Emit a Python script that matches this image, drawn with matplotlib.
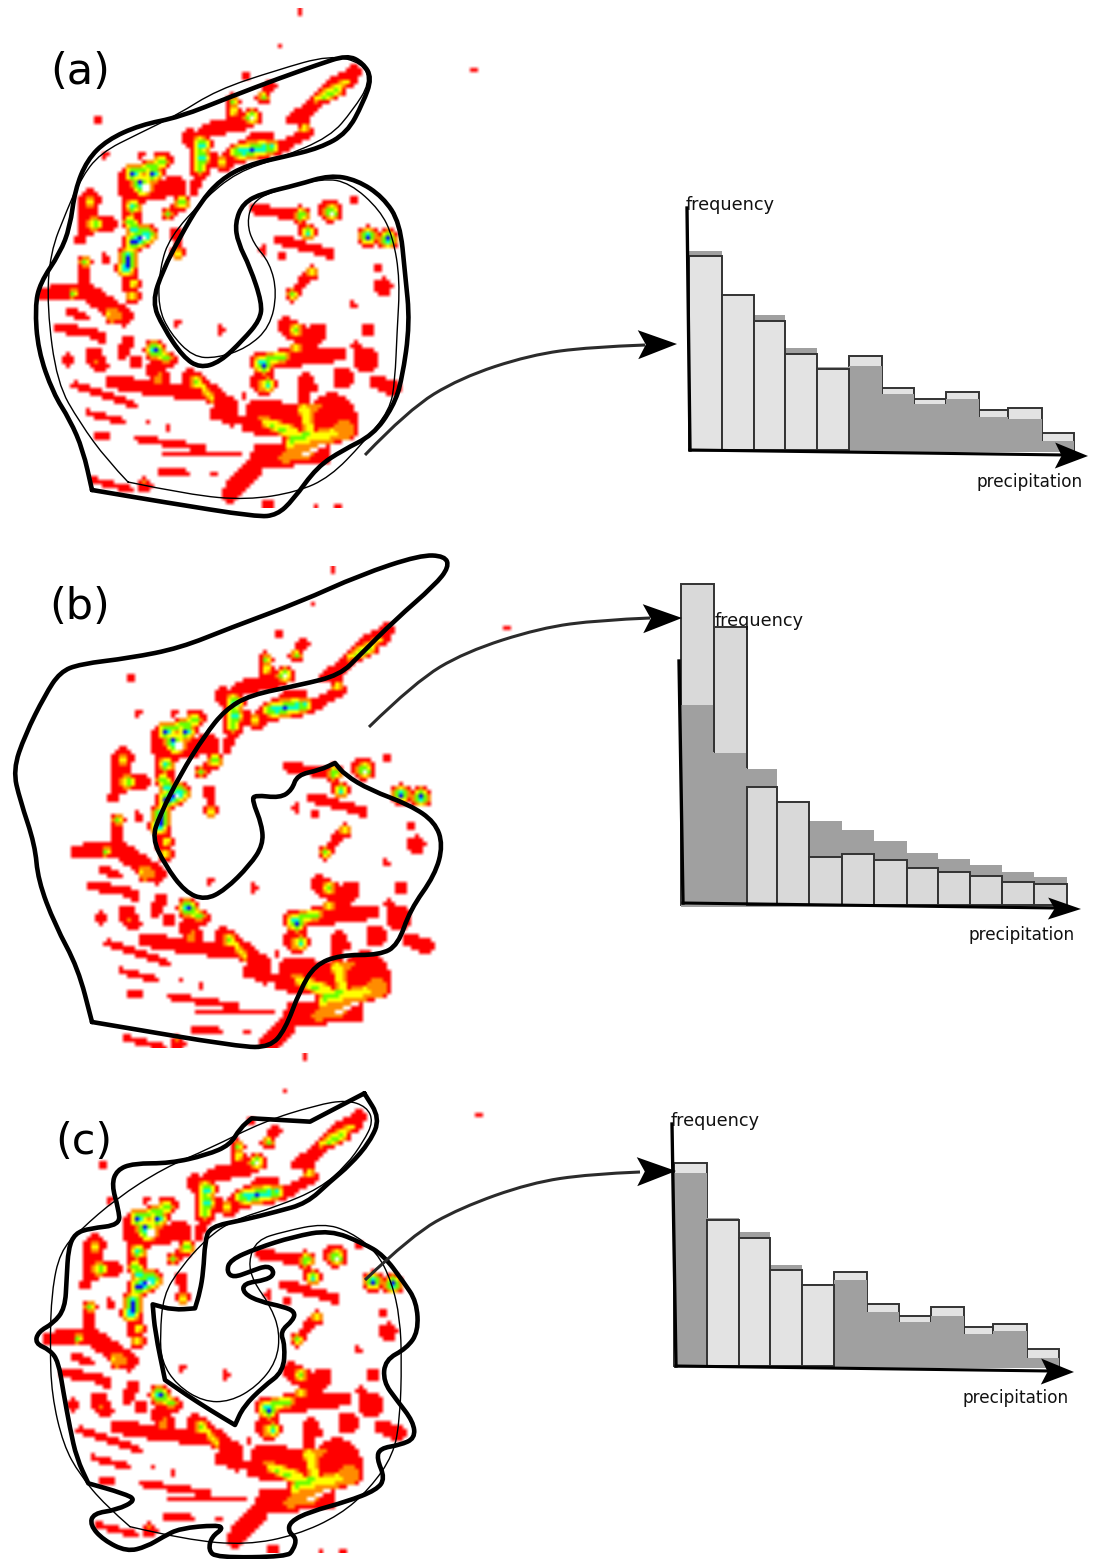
"""
Precipitation field schematic: three contour panels, each with a histogram.
Everything is laid out in reference pixel units on one full-figure axes.
"""

import numpy as np
import matplotlib
matplotlib.use("Agg")
import matplotlib.pyplot as plt
from matplotlib.path import Path
from matplotlib.patches import PathPatch

WIDTH, HEIGHT = 1095, 1559

RED = [
    ([(790, 235), (860, 190), (900, 140), (975, 95)], 16), ([(955, 115)], 24),
    ([(820, 215), (830, 270)], 14), ([(830, 280), (740, 330), (620, 335)], 14),
    ([(650, 105)], 9), ([(610, 180), (610, 230)], 15), ([(725, 135), (690, 175)], 12),
    ([(660, 230)], 22), ([(640, 250), (530, 270)], 18), ([(480, 295), (510, 300), (510, 400)], 24),
    ([(510, 400), (490, 455)], 12), ([(530, 360), (590, 370), (620, 330)], 20),
    ([(720, 290), (670, 290)], 14), ([(340, 440)], 44), ([(290, 410), (290, 460)], 20),
    ([(400, 360), (370, 400)], 25), ([(440, 435), (390, 450)], 24), ([(455, 490), (410, 525)], 12),
    ([(180, 480), (170, 560)], 28), ([(170, 560), (240, 550)], 20), ([(150, 600)], 12),
    ([(165, 660), (165, 730)], 12), ([(225, 655)], 11), ([(300, 500), (310, 560), (340, 590)], 24),
    ([(340, 590), (300, 640), (290, 690), (310, 770)], 20), ([(40, 760), (160, 750)], 17),
    ([(160, 750), (280, 830)], 25), ([(120, 815), (170, 835)], 8), ([(90, 865), (190, 880)], 11),
    ([(215, 895)], 15), ([(295, 905), (280, 940)], 15), ([(190, 945), (210, 975)], 22),
    ([(115, 960)], 16), ([(315, 965)], 17), ([(365, 930), (420, 960)], 16),
    ([(380, 985), (390, 1030)], 26), ([(250, 1025), (400, 1050), (560, 1060)], 18),
    ([(135, 1035), (310, 1095)], 8), ([(480, 1010), (600, 1100)], 22), ([(175, 1120), (280, 1145)], 7),
    ([(200, 1190), (235, 1190)], 6), ([(320, 1195), (520, 1225)], 7), ([(405, 1243), (630, 1243)], 5),
    ([(400, 1295), (465, 1300)], 9), ([(550, 1302)], 9), ([(190, 1320), (300, 1350)], 7),
    ([(345, 1335)], 18), ([(905, 1135)], 72), ([(681, 1110), (870, 1140)], 32),
    ([(560, 1120), (700, 1170)], 17), ([(660, 1150), (900, 1190)], 24), ([(870, 1240), (700, 1245)], 32),
    ([(700, 1250), (600, 1360)], 24), ([(830, 1020), (820, 1090)], 18), ([(770, 860), (840, 900)], 26),
    ([(860, 880)], 30), ([(690, 960), (850, 950)], 22), ([(700, 1030)], 35), ([(850, 950), (930, 945)], 16),
    ([(1015, 870)], 17), ([(980, 920)], 13), ([(1010, 960)], 34), ([(940, 1015)], 30),
    ([(1040, 1025), (1090, 1045)], 19), ([(970, 795)], 7), ([(1060, 740)], 24), ([(1045, 680)], 9),
    ([(790, 765), (840, 695)], 11), ([(670, 505), (790, 525), (840, 580)], 12), ([(900, 510)], 32),
    ([(750, 600), (900, 640)], 12), ([(700, 630)], 9), ([(755, 650)], 8), ([(1015, 590)], 18),
    ([(1075, 595)], 18), ([(975, 480)], 10), ([(440, 575), (445, 640)], 12), ([(440, 848)], 8),
    ([(575, 870)], 10), ([(850, 1045)], 13), ([(715, 1395)], 14), ([(920, 1400)], 7), ([(860, 1405)], 5),
    ([(203, 240)], 6), ([(225, 345)], 9), ([(335, 345)], 7), ([(752, 18)], 5), ([(600, 1105)], 8),
    ([(415, 1165)], 4), ([(350, 1150)], 4), ([(640, 1070)], 6), ([(810, -84)], 4), ([(1332, 93)], 4),
]
ORANGE = [
    ([(385, 1015)], 14), ([(250, 825)], 22), ([(945, 1170)], 30), ([(780, 1240), (900, 1190)], 18),
    ([(700, 1040)], 20), ([(430, 1297)], 6), ([(200, 965)], 10), ([(840, 1240), (760, 1255)], 14),
    ([(340, 1325)], 8), ([(860, 1100), (830, 1130)], 14), ([(540, 1075)], 12), ([(700, 1135)], 12),
]
YELLOW = [
    ([(860, 175), (950, 125)], 6), ([(130, 760)], 6), ([(235, 820)], 5), ([(780, 1209), (909, 1179)], 12),
    ([(711, 1149), (789, 1175)], 12), ([(510, 1030), (545, 1075)], 6), ([(700, 1040)], 10),
    ([(820, 1105), (840, 1170)], 12),
]
GREEN = [
    ([(880, 170), (925, 150)], 4), ([(825, 265)], 4), ([(610, 215)], 4), ([(510, 310), (510, 385)], 8),
    ([(575, 368)], 5), ([(620, 335), (725, 320)], 4), ([(665, 232)], 7), ([(700, 170)], 2),
    ([(310, 400), (400, 365)], 5), ([(340, 440)], 18), ([(455, 490)], 4), ([(415, 522)], 2),
    ([(195, 550)], 8), ([(180, 485)], 4), ([(300, 545), (335, 590)], 8), ([(300, 640), (290, 685)], 6),
    ([(310, 730)], 3), ([(305, 768)], 5), ([(130, 760)], 3), ([(165, 665)], 2), ([(380, 935), (410, 955)], 5),
    ([(500, 1025)], 8), ([(795, 870)], 8), ([(800, 925)], 5), ([(690, 965), (760, 950)], 7),
    ([(715, 1035)], 10), ([(815, 525)], 8), ([(835, 580)], 8), ([(905, 515)], 12), ([(788, 765)], 5),
    ([(845, 697)], 3), ([(1015, 590)], 5), ([(1075, 597)], 4), ([(730, 1160), (770, 1175)], 3),
    ([(790, 1200), (830, 1185)], 8), ([(445, 640)], 2), ([(610, 185)], 2),
]
CYAN = [
    ([(620, 335), (725, 322)], 2), ([(665, 232)], 6), ([(310, 395)], 5), ([(395, 365)], 4),
    ([(340, 440)], 14), ([(310, 500)], 6), ([(195, 552)], 5), ([(310, 570), (360, 585)], 4),
    ([(295, 650), (290, 685)], 3), ([(510, 315)], 3), ([(815, 525)], 5), ([(835, 578)], 4),
    ([(905, 518)], 8), ([(690, 970)], 5), ([(715, 1035)], 4), ([(455, 488)], 2), ([(375, 930)], 3),
]
BLUE = [
    ([(640, 335)], 1), ([(670, 328)], 1), ([(700, 325)], 1), ([(295, 650), (290, 685)], 1), ([(515, 315)], 1),
    ([(515, 355)], 1), ([(330, 430)], 1), ([(370, 400)], 1), ([(310, 400)], 1), ([(1015, 590)], 1),
    ([(1075, 597)], 1), ([(375, 930)], 1), ([(700, 975)], 1), ([(310, 605), (350, 585)], 1),
]
WHITE_CORE = [
    ([(345, 445)], 12), ([(905, 520)], 6), ([(815, 530)], 4), ([(665, 232)], 3), ([(340, 595)], 4),
    ([(880, 1215), (820, 1245)], 5), ([(610, 1155), (660, 1168)], 3),
]

FIELD_LEVELS = [RED, ORANGE, YELLOW, GREEN, CYAN, BLUE]
FIELD_COLORS = ["#ff0000", "#ff8c00", "#ffff00", "#66ff00", "#00ffcc", "#0000ff"]

# ---- contours, reference pixels
A_THICK = [(92, 490), (92, 490), (83, 450), (70, 420), (53, 393), (38, 350), (35, 307), (40, 283), (60, 253), (70, 227),
           (75, 190), (87, 160), (107, 140), (140, 125), (180, 117), (230, 97), (280, 78), (317, 65), (347, 55),
           (363, 63), (372, 78), (363, 103), (347, 133), (320, 148), (283, 157), (247, 165), (220, 180), (200, 203),
           (180, 237), (163, 270), (152, 302), (163, 327), (183, 357), (200, 368), (220, 362), (243, 340), (260, 320),
           (262, 303), (250, 267), (238, 243), (235, 223), (243, 203), (263, 193), (297, 185), (330, 175), (357, 180),
           (383, 197), (400, 223), (405, 273), (410, 323), (402, 380), (393, 407), (373, 435), (343, 450), (317, 467),
           (293, 500), (277, 515), (257, 517), (163, 502), (92, 490), (92, 490)]
A_THIN = [(128, 482), (107, 460), (80, 423), (57, 383), (47, 307), (50, 253), (67, 210), (80, 180), (100, 153),
          (140, 133), (177, 115), (217, 90), (277, 70), (330, 55), (363, 63), (370, 83), (353, 110), (330, 137),
          (280, 158), (237, 172), (203, 200), (170, 237), (160, 267), (158, 307), (170, 333), (193, 357), (217, 358),
          (247, 348), (270, 327), (277, 293), (270, 263), (253, 243), (247, 223), (252, 203), (270, 192), (323, 178),
          (350, 183), (380, 210), (393, 237), (400, 280), (397, 333), (395, 380), (390, 410), (363, 443), (330, 477),
          (297, 492), (247, 500), (190, 495), (128, 482)]
B_THICK = [(92, 1022), (92, 1022), (78, 968), (55, 925), (38, 880), (35, 845), (20, 800), (13, 770), (25, 735), (45, 695),
           (60, 672), (80, 664), (130, 658), (180, 648), (230, 628), (300, 602), (360, 575), (420, 555), (445, 556),
           (449, 567), (435, 585), (395, 620), (360, 655), (340, 675), (300, 685), (250, 695), (225, 710), (205, 735),
           (180, 775), (160, 815), (152, 838), (165, 865), (185, 892), (205, 900), (225, 890), (250, 865), (263, 845),
           (262, 825), (252, 800), (255, 795), (280, 798), (292, 790), (297, 775), (320, 770), (335, 763), (335, 763),
           (345, 775), (370, 790), (410, 805), (435, 822), (443, 845), (435, 875), (410, 910), (398, 945), (380, 955),
           (340, 955), (315, 965), (300, 990), (285, 1030), (270, 1047), (240, 1047), (92, 1022), (92, 1022)]
C_THICK_CROP = [(1003, 25), (1003, 25), (1050, 100), (1020, 170), (960, 240), (900, 290), (830, 355), (740, 380), (640, 405),
                (540, 425), (525, 470), (520, 560), (510, 620), (495, 670), (495, 670), (430, 675), (368, 658), (368, 658),
                (375, 740), (405, 885), (405, 885), (470, 930), (540, 975), (615, 1020), (615, 1020), (640, 965), (700, 905),
                (760, 860), (765, 780), (750, 740), (790, 705), (795, 680), (760, 665), (690, 650), (640, 625), (640, 595),
                (710, 585), (735, 565), (715, 540), (660, 560), (610, 578), (590, 560), (600, 525), (680, 490), (790, 455),
                (900, 435), (1000, 475), (1060, 510), (1120, 590), (1160, 650), (1165, 740), (1130, 790), (1065, 825),
                (1060, 890), (1100, 945), (1150, 1010), (1155, 1060), (1110, 1080), (1050, 1090), (1040, 1120), (1065, 1180),
                (1040, 1215), (950, 1250), (840, 1280), (780, 1310), (775, 1340), (800, 1360), (790, 1395), (770, 1415),
                (560, 1418), (535, 1395), (545, 1355), (580, 1330), (560, 1320), (450, 1330), (400, 1355), (350, 1385),
                (290, 1400), (220, 1365), (180, 1320), (190, 1285), (260, 1275), (320, 1245), (280, 1225), (175, 1195),
                (175, 1195), (140, 1120), (120, 1030), (100, 920), (85, 830), (60, 795), (15, 775), (25, 740), (70, 715),
                (105, 670), (110, 580), (115, 490), (135, 445), (180, 430), (270, 420), (265, 370), (245, 300), (260, 255),
                (310, 235), (420, 235), (530, 210), (600, 180), (630, 130), (665, 100), (665, 100), (840, 110), (840, 110),
                (1003, 25), (1003, 25)]
C_THIN_CROP = [(300, 1325), (225, 1260), (150, 1170), (100, 1080), (65, 930), (60, 780), (65, 620), (90, 500), (150, 435),
               (260, 340), (400, 250), (540, 190), (700, 110), (860, 60), (950, 45), (1010, 65), (1030, 110), (1000, 170),
               (950, 240), (870, 310), (740, 365), (610, 405), (530, 460), (450, 550), (400, 630), (390, 750), (395, 830),
               (440, 900), (520, 950), (600, 950), (680, 905), (740, 830), (750, 740), (720, 660), (670, 590), (655, 530),
               (680, 465), (760, 440), (880, 415), (960, 440), (1040, 500), (1085, 590), (1110, 700), (1115, 830), (1110, 1000),
               (1090, 1110), (1020, 1210), (930, 1290), (800, 1350), (650, 1380), (470, 1365), (300, 1325)]

# ---- connector curves
A_LINK = [(365, 455), (408, 410), (460, 378), (530, 355), (590, 347), (645, 345)]
B_LINK = [(369, 727), (415, 682), (465, 652), (540, 628), (600, 620), (650, 618)]
C_LINK = [(365, 1280), (412, 1235), (460, 1208), (530, 1183), (590, 1174), (640, 1172)]

# ---- histograms: bin edges and bar heights
A_EDGES = [689, 722, 754, 785, 817, 849, 882, 914, 946, 979, 1008, 1042, 1074]
A_LIGHT = [194, 155, 129, 96, 81, 94, 62, 51, 58, 40, 42, 17]
A_DARK = [201, 156, 137, 104, 85, 86, 58, 48, 53, 35, 33, 11]
B_EDGES = [681, 714, 747, 777, 809, 842, 874, 907, 938, 970, 1002, 1034, 1067]
B_LIGHT = [321, 278, 118, 103, 48, 51, 45, 37, 33, 29, 23, 21]
B_DARK = [202, 154, 138, 104, 86, 77, 66, 54, 48, 42, 35, 30]
C_EDGES = [674, 707, 739, 770, 802, 834, 867, 899, 931, 964, 993, 1027, 1059]
C_LIGHT = [203, 146, 128, 96, 81, 94, 62, 50, 59, 39, 42, 17]
C_DARK = [195, 150, 136, 103, 84, 88, 56, 46, 52, 34, 37, 10]

LIGHT_A = "#e3e3e3"
LIGHT_B = "#d9d9d9"
DARK = "#a0a0a0"
EDGE = "#333333"


def from_crop(points, x0, y0):
    return [(x0 + x / 3, y0 + y / 3) for x, y in points]


def smooth_path(points):
    """Quadratic curve through midpoints, with the read points as controls."""
    pts = np.asarray(points, dtype=float)
    mids = (pts[:-1] + pts[1:]) / 2
    verts, codes = [pts[0]], [Path.MOVETO]
    for ctrl, mid in zip(pts[1:-1], mids[1:]):
        verts += [ctrl, mid]
        codes += [Path.CURVE3, Path.CURVE3]
    verts[-1] = pts[-1]
    return Path(verts, codes)


def stroke_mask(gx, gy, pts, radius):
    p = np.array(from_crop(pts, 30, 40))
    if len(p) == 1:
        p = np.vstack([p, p])
    mask = np.zeros(gx.shape, dtype=bool)
    for a, b in zip(p[:-1], p[1:]):
        d = b - a
        t = ((gx - a[0]) * d[0] + (gy - a[1]) * d[1]) / max(d @ d, 1e-6)
        t = np.clip(t, 0, 1)
        mask |= np.hypot(gx - a[0] - t * d[0], gy - a[1] - t * d[1]) <= radius
    return mask


def field_image(cell=4.0, halo=1.9):
    """Rasterise the strokes on a coarse grid; each level gets a rim of the one below."""
    xs = np.arange(30, 490, cell)
    ys = np.arange(8, 508, cell)
    gx, gy = np.meshgrid(xs + cell / 2, ys + cell / 2)
    img = np.ones(gx.shape + (3,))
    for i, color in enumerate(FIELD_COLORS):
        rgb = matplotlib.colors.to_rgb(color)
        for j in range(i, len(FIELD_LEVELS)):
            for pts, half in FIELD_LEVELS[j]:
                extra = 1.2 if j == 0 else 0.0
                radius = max(half / 3, 1.5) + extra + (j - i) * halo
                img[stroke_mask(gx, gy, pts, radius)] = rgb
    for pts, half in WHITE_CORE:
        img[stroke_mask(gx, gy, pts, half / 3)] = (1, 1, 1)
    return img, (30, 30 + len(xs) * cell, 8 + len(ys) * cell, 8)


def draw_field(ax, img, extent, dx, dy, clip_bottom=None):
    x0, x1, y1, y0 = extent
    im = ax.imshow(img, extent=(x0 + dx, x1 + dx, y1 + dy, y0 + dy),
                   interpolation="bilinear", aspect="auto", zorder=1)
    if clip_bottom is not None:
        im.set_clip_path(plt.Rectangle((0, 0), WIDTH, clip_bottom, transform=ax.transData))


def arrow_head(ax, tip, length, half, angle=0.0, notch=0.8):
    """Filled stealth head pointing along angle (degrees, pixel axes)."""
    a = np.radians(angle)
    u = np.array([np.cos(a), np.sin(a)])
    n = np.array([-u[1], u[0]])
    tip = np.array(tip, dtype=float)
    back = tip - u * length
    poly = [tip, back + n * half, tip - u * length * notch, back - n * half]
    ax.fill(*zip(*poly), color="black", lw=0, zorder=8)


def draw_hist(ax, edges, light, dark, base, light_color, dark_on_top):
    """dark_on_top holds the bins whose light bar sits behind the grey one."""
    left = np.array(edges[:-1], dtype=float)
    width = np.diff(edges)
    for i in range(len(light)):
        z = 3 if i in dark_on_top else 5
        ax.bar(left[i], light[i], width[i], bottom=base - light[i], align="edge",
               color=light_color, edgecolor=EDGE, linewidth=1.4, zorder=z)
    ax.bar(left, dark, width, bottom=base - np.array(dark) + 2, align="edge",
           color=DARK, linewidth=0, zorder=4)


def draw_axes(ax, top, origin, end, tip, half=13):
    ax.plot([top[0], origin[0]], [top[1], origin[1]], color="black", lw=2.4, zorder=7)
    ax.plot([origin[0], end[0]], [origin[1], end[1]], color="black", lw=2.2, zorder=7)
    arrow_head(ax, tip, 33, half, angle=0.8)


def main():
    fig = plt.figure(figsize=(WIDTH / 100, HEIGHT / 100), dpi=100)
    ax = fig.add_axes([0, 0, 1, 1])

    img, extent = field_image()
    draw_field(ax, img, extent, 0, 0)
    draw_field(ax, img, extent, 33, 558, clip_bottom=1048)
    draw_field(ax, img, extent, 5, 1045)

    # contours
    c_thick = from_crop(C_THICK_CROP, 30, 1085)
    c_thin = from_crop(C_THIN_CROP, 30, 1085)
    for pts, lw in [(A_THIN, 1.0), (c_thin, 1.0), (A_THICK, 3.3), (B_THICK, 3.3), (c_thick, 3.3)]:
        ax.add_patch(PathPatch(smooth_path(pts), fill=False, lw=lw, color="black", zorder=6,
                               capstyle="round", joinstyle="round"))

    # connectors into the histograms
    for link, tip in [(A_LINK, (677, 344)), (B_LINK, (682, 618)), (C_LINK, (676, 1171))]:
        ax.add_patch(PathPatch(smooth_path(link), fill=False, lw=2.2, color="#2b2b2b", zorder=6))
        arrow_head(ax, tip, 39, 14.5, angle=-1)

    # histograms
    draw_hist(ax, A_EDGES, A_LIGHT, A_DARK, 450, LIGHT_A, set(range(5, 12)))
    draw_hist(ax, B_EDGES, B_LIGHT, B_DARK, 905, LIGHT_B, {0, 1})
    draw_hist(ax, C_EDGES, C_LIGHT, C_DARK, 1366, LIGHT_A, {0, 5, 6, 7, 8, 9, 10, 11})
    # the second bar of (b) keeps its right side down to the next grey bin
    ax.plot([B_EDGES[2]] * 2, [905 - B_LIGHT[1], 905 - B_DARK[2]], color=EDGE, lw=1.4, zorder=5)
    ax.plot([B_EDGES[1]] * 2, [905 - B_LIGHT[1], 905 - B_DARK[1]], color=EDGE, lw=1.4, zorder=5)

    draw_axes(ax, (687, 208), (690, 450), (1065, 455), (1088, 456))
    draw_axes(ax, (679, 661), (683, 903), (1055, 908), (1081, 909), half=11)
    draw_axes(ax, (672, 1124), (676, 1366), (1050, 1371), (1074, 1372))

    # text
    for label, x, y in [("(a)", 50, 72), ("(b)", 49, 607), ("(c)", 55, 1142)]:
        ax.text(x, y, label, fontsize=31, va="center", ha="left", color="black", zorder=9)
    for x, y in [(686, 205), (715, 621), (671, 1121)]:
        ax.text(x, y, "frequency", fontsize=12.7, va="center", ha="left", color="#111111", zorder=9)
    for x, y in [(977, 482), (968, 935), (962, 1398)]:
        ax.text(x, y, "precipitation", fontsize=12.2, va="center", ha="left", color="#111111", zorder=9)

    ax.set_xlim(0, WIDTH)
    ax.set_ylim(HEIGHT, 0)
    ax.axis("off")
    fig.savefig("out.png", dpi=100, facecolor="white")


if __name__ == "__main__":
    main()
